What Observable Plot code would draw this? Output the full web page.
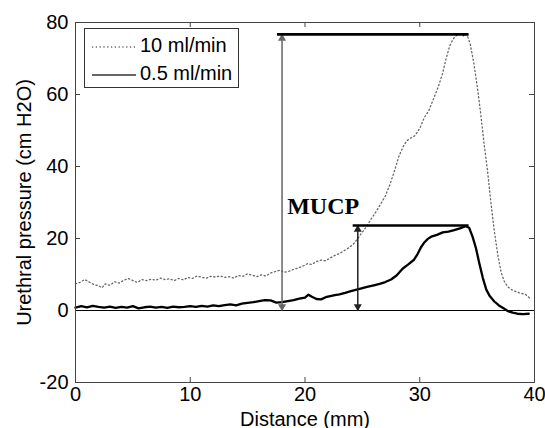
<!DOCTYPE html>
<html><head><meta charset="utf-8">
<script src="https://cdn.jsdelivr.net/npm/d3@7"></script>
<script src="https://cdn.jsdelivr.net/npm/@observablehq/plot@0.6"></script>
<style>
body{margin:0;background:#fff;}
#wrap{position:relative;width:545px;height:428px;overflow:hidden;}
#legend{position:absolute;left:84px;top:28px;width:153px;height:58px;border:1px solid #333;background:#fff;font:20px "Liberation Sans",Arial,sans-serif;color:#000;}
.row{position:absolute;left:6px;height:24px;line-height:24px;white-space:nowrap;}
.row svg{vertical-align:middle;margin-right:3px;}
</style></head>
<body><div id="wrap"></div>
<script>
// Series: 10 ml/min (dotted)
const dist10 = [0,0.4,0.8,1.2,1.6,2.0,2.3,2.6,3.0,3.4,3.8,4.2,4.6,5.0,5.4,5.8,6.2,6.6,7.0,7.4,7.8,8.2,8.6,9.0,9.4,9.8,10.2,10.6,11.0,11.4,11.8,12.2,12.6,13.0,13.4,13.8,14.2,14.6,15.0,15.4,15.8,16.2,16.6,17.0,17.4,17.8,18.2,18.6,19.0,19.4,19.8,20.2,20.6,21.0,21.4,21.8,22.2,22.6,23.0,23.4,23.8,24.2,24.6,25.0,25.4,25.8,26.2,26.6,27.0,27.4,27.8,28.2,28.6,28.9,29.2,29.6,30.0,30.4,30.8,31.2,31.6,32.0,32.3,32.6,32.9,33.2,33.5,33.8,34.1,34.4,34.7,35.0,35.3,35.6,35.9,36.2,36.5,36.8,37.1,37.4,37.7,38.0,38.4,38.8,39.2,39.6];
const press10 = [7.4,7.8,8.6,7.9,7.2,6.9,6.3,7.4,7.0,8.0,7.6,8.4,8.9,8.3,7.8,8.6,8.3,8.7,8.4,9.0,8.6,8.8,8.3,8.9,8.5,9.2,8.9,9.6,9.2,9.0,9.5,9.3,9.6,9.2,9.4,9.0,9.7,9.5,10.2,9.8,9.4,9.9,9.6,10.4,10.8,11.2,10.6,10.9,11.4,11.8,12.3,13.0,12.8,13.6,14.0,13.8,14.6,15.3,15.8,16.6,17.4,18.4,20.0,21.8,23.5,25.6,27.5,29.6,31.8,35.0,38.8,43.0,45.8,47.2,47.9,48.6,50.6,53.6,55.6,58.8,62.0,66.0,70.0,73.4,75.4,76.4,76.8,76.3,76.8,74.0,69.0,62.5,55.0,46.5,39.0,30.0,22.0,15.5,10.5,7.8,6.5,5.8,5.2,4.8,4.5,3.4];
// Series: 0.5 ml/min (solid)
const dist05 = [0,0.5,1.0,1.5,2.0,2.5,3.0,3.5,4.0,4.5,5.0,5.5,6.0,6.5,7.0,7.5,8.0,8.5,9.0,9.5,10.0,10.5,11.0,11.5,12.0,12.5,13.0,13.5,14.0,14.5,15.0,15.5,16.0,16.5,17.0,17.5,18.0,18.5,19.0,19.5,20.0,20.3,20.6,21.0,21.4,21.8,22.2,22.6,23.0,23.5,24.0,24.5,25.0,25.5,26.0,26.5,27.0,27.5,28.0,28.5,29.0,29.5,29.8,30.1,30.4,30.7,31.0,31.5,32.0,32.5,33.0,33.5,34.0,34.3,34.6,34.9,35.2,35.5,35.8,36.1,36.5,36.9,37.3,37.7,38.1,38.5,39.0,39.5];
const press05 = [0.8,1.2,0.9,1.3,1.0,0.8,1.1,0.7,1.0,0.8,1.2,0.6,0.9,1.1,0.8,1.0,0.7,1.1,0.9,1.0,1.2,1.0,1.3,1.1,1.4,1.2,1.5,1.7,1.4,1.9,2.1,2.3,2.6,2.9,2.8,2.2,2.3,2.6,2.9,3.3,3.6,4.4,3.8,3.2,3.1,3.7,4.0,4.3,4.5,4.9,5.4,5.8,6.2,6.6,7.0,7.4,7.9,8.6,9.8,11.6,12.8,14.1,15.6,17.5,18.9,19.9,20.5,21.0,21.7,21.9,22.3,22.8,23.4,23.0,20.5,17.3,13.0,9.0,5.8,4.0,2.5,1.4,0.6,-0.2,-0.6,-0.9,-1.0,-0.9];
// Ticks
const xTicks = [0,10,20,30,40];
const yTicks = [-20,0,20,40,60,80];
// MUCP annotations
const mucpLevel = [76.7, 23.6];
const mucpStart = [17.6, 24.2];
const mucpEnd = [34.3, 34.3];
const arrowAt = [18.0, 24.6];
const arrowColor = ["#666", "#222"];
const labelX = [18.45];
const labelY = [26.9];
const labelText = ["MUCP"];
const legendNames = ["10 ml/min", "0.5 ml/min"];

const data10 = dist10.map((d,i)=>({d, v: press10[i]}));
const data05 = dist05.map((d,i)=>({d, v: press05[i]}));
const levels = mucpLevel.map((v,i)=>({v, x1: mucpStart[i], x2: mucpEnd[i], x: arrowAt[i], base: 0, c: arrowColor[i]}));
const labels = labelText.map((t,i)=>({t, x: labelX[i], y: labelY[i]}));

const W=545,H=428,mL=75,mR=11,mT=22,mB=46;
const iw=W-mL-mR, ih=H-mT-mB;
const fmt = d => String(d);

const chart = Plot.plot({
  width:W,height:H,marginLeft:mL,marginRight:mR,marginTop:mT,marginBottom:mB,
  style:{fontFamily:'"Liberation Sans",Arial,sans-serif',fontSize:"20px",color:"#000",background:"#fff"},
  x:{domain:[0,40]},
  y:{domain:[-20,80]},
  marks:[
    Plot.axisX(xTicks,{tickSize:0,tickPadding:4,tickFormat:fmt,label:"Distance (mm)",labelArrow:"none",labelAnchor:"center",labelOffset:43}),
    Plot.axisY(yTicks,{tickSize:0,tickPadding:7,tickFormat:fmt,label:"Urethral pressure (cm H2O)",labelArrow:"none",labelAnchor:"center",labelOffset:59}),
    Plot.tickX(xTicks,{x:d=>d,insetTop:ih-5,stroke:"#444"}),
    Plot.tickX(xTicks,{x:d=>d,insetBottom:ih-5,stroke:"#444"}),
    Plot.tickY(yTicks,{y:d=>d,insetRight:iw-5,stroke:"#444"}),
    Plot.tickY(yTicks,{y:d=>d,insetLeft:iw-5,stroke:"#444"}),
    Plot.ruleY([0],{stroke:"#000",strokeWidth:1.2}),
    Plot.line(data10,{x:"d",y:"v",stroke:"#666",strokeWidth:1.3,strokeDasharray:"1.2,2.6"}),
    Plot.line(data05,{x:"d",y:"v",stroke:"#000",strokeWidth:2.3}),
    Plot.ruleX(levels,{x:"x",y1:"base",y2:"v",stroke:"c",strokeWidth:1.5}),
    Plot.dot(levels,{x:"x",y:"v",symbol:"triangle",r:3,dy:4,fill:"c",stroke:"none"}),
    Plot.dot(levels,{x:"x",y:"base",symbol:"triangle",r:3,dy:-4,rotate:180,fill:"c",stroke:"none"}),
    Plot.ruleY(levels,{y:"v",x1:"x1",x2:"x2",stroke:"#000",strokeWidth:2.6}),
    Plot.text(labels,{x:"x",y:"y",text:"t",textAnchor:"start",lineAnchor:"bottom",fontFamily:'"Liberation Serif","Times New Roman",serif',fontWeight:"bold",fontSize:24,fill:"#000"}),
    Plot.frame({stroke:"#444"})
  ]
});
const wrap = document.getElementById("wrap");
wrap.appendChild(chart);

const legend = document.createElement("div");
legend.id = "legend";
legend.innerHTML = `
<div class="row" style="top:4px"><svg width="46" height="10"><line x1="1" y1="5" x2="45" y2="5" stroke="#666" stroke-width="1.3" stroke-dasharray="1.2,2.6"/></svg>${legendNames[0]}</div>
<div class="row" style="top:32px"><svg width="46" height="10"><line x1="1" y1="5" x2="45" y2="5" stroke="#333" stroke-width="1.6"/></svg>${legendNames[1]}</div>`;
wrap.appendChild(legend);
</script>
</body></html>
